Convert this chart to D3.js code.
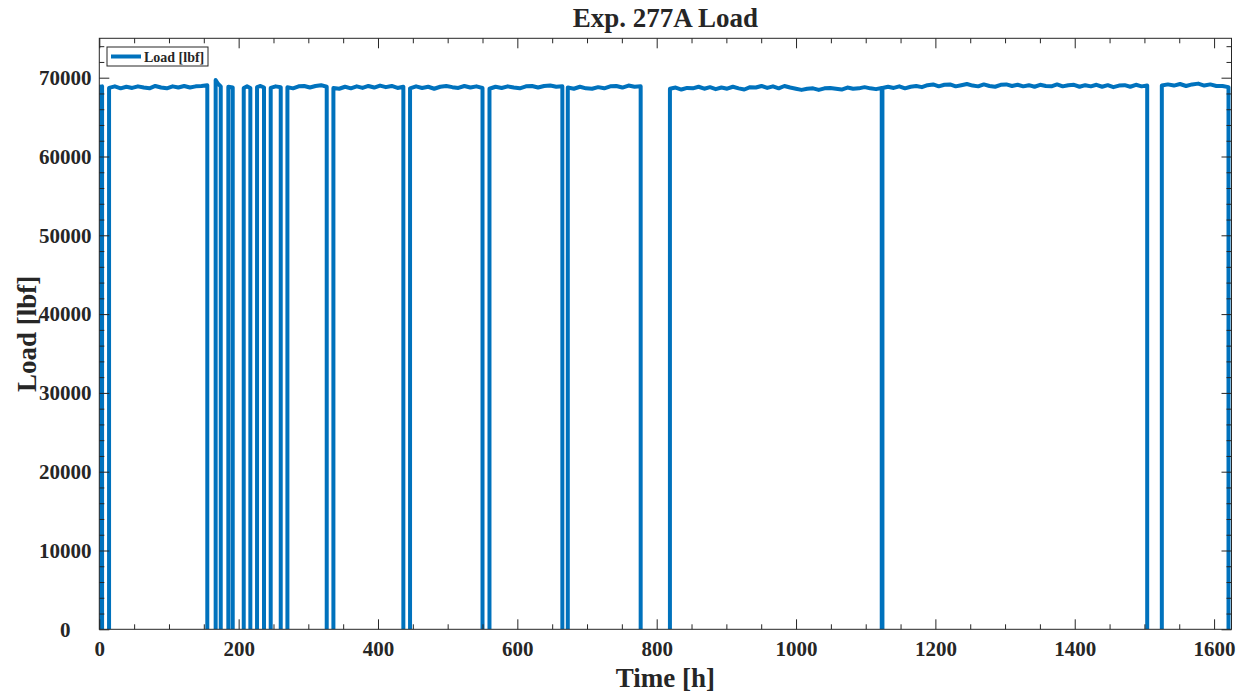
<!DOCTYPE html>
<html>
<head>
<meta charset="utf-8">
<script src="https://cdn.jsdelivr.net/npm/d3@7"></script>
<style>
  html, body { margin: 0; padding: 0; background: #fff; }
  svg { display: block; }
  text { font-family: "Liberation Serif", "Times New Roman", serif; font-weight: bold; fill: #262626; }
</style>
</head>
<body>
<svg id="root"></svg>
<script>
(function () {
  // on-load periods [h] and load samples read along each plateau [lbf]
  const onStart = [0.5, 14, 167, 185.2, 207.3, 226.4, 246, 270, 336, 446, 560, 672.4, 819, 1124, 1525];
  const onEnd = [4, 155, 174.3, 191.5, 216.8, 236.4, 260.4, 326.4, 436.4, 550, 664.6, 777, 1123, 1504, 1620.7];
  const onLevels = [
    [68850, 68900],
    [68700, 68900, 68650, 68850, 68700, 68900, 68750, 68650, 68950, 68750, 68650, 68900, 68750, 68950, 68750, 68900, 68950, 69050],
    [69700, 69200, 68900],
    [68850, 68750],
    [68700, 68900, 68700],
    [68800, 68950, 68750],
    [68700, 68900, 68800],
    [68800, 68650, 68900, 68950, 68750, 68950, 69050, 68850],
    [68700, 68600, 68850, 68650, 68900, 68700, 68950, 68750, 69000, 68800, 68950, 68700, 68850],
    [68650, 68900, 68700, 68850, 68600, 68850, 68950, 68800, 68700, 68950, 68750, 68900, 68700],
    [68600, 68850, 68700, 68900, 68750, 68650, 68900, 68950, 68750, 68950, 69000, 68850, 68900],
    [68750, 68600, 68850, 68650, 68600, 68800, 68650, 68900, 68950, 68750, 69000, 68850, 68900],
    [68600, 68750, 68500, 68700, 68650, 68850, 68600, 68800, 68550, 68750,
     68600, 68850, 68650, 68500, 68800, 68750, 68950, 68700, 68900, 68650,
     68950, 68750, 68600, 68450, 68600, 68650, 68450, 68650, 68700, 68600,
     68500, 68750, 68600, 68650, 68800, 68650, 68550, 68700],
    [68700, 68850, 68700, 68900, 68650, 68850, 68950, 68800,
     69050, 69150, 68900, 69100, 69150, 68900, 69050, 69200,
     69000, 68900, 69150, 68950, 68850, 69100, 69150, 68950,
     69100, 68900, 69050, 68850, 69100, 68950, 68900, 69150,
     68900, 69050, 69100, 68850, 69050, 68900, 69100, 68850,
     69050, 68800, 69000, 69050, 68850, 69100, 68900, 69000],
    [69000, 69150, 69000, 69200, 68950, 69150, 69250, 69000, 69150, 68950, 68950, 68800]
  ];
  const xMajorTicks = [0, 200, 400, 600, 800, 1000, 1200, 1400, 1600];
  const yMajorTicks = [0, 10000, 20000, 30000, 40000, 50000, 60000, 70000];

  const W = 1242, H = 694;
  const margin = { top: 38.3, right: 10.5, bottom: 64.7, left: 99.3 };
  const iw = W - margin.left - margin.right;
  const ih = H - margin.top - margin.bottom;
  const axisColor = "#262626";
  const lineColor = "#0072BD";

  const svg = d3.select("#root").attr("width", W).attr("height", H);

  const x = d3.scaleLinear().domain([0, 1625]).range([0, iw]);
  const y = d3.scaleLinear().domain([0, 75000]).range([ih, 0]);

  const g = svg.append("g").attr("transform", `translate(${margin.left},${margin.top})`);

  svg.append("defs").append("clipPath").attr("id", "plotclip")
    .append("rect").attr("width", iw).attr("height", ih);

  // build the series: each plateau drops to zero at both ends
  let segments = onStart.map((a, i) => {
    let b = onEnd[i];
    let lv = onLevels[i];
    let pts = [[a, 0]];
    lv.forEach((v, k) => {
      let t = lv.length === 1 ? a : a + (b - a) * k / (lv.length - 1);
      pts.push([t, v]);
    });
    pts.push([b, 0]);
    return pts;
  });

  const line = d3.line().x(d => x(d[0])).y(d => y(d[1]));

  g.append("g").attr("clip-path", "url(#plotclip)")
    .selectAll("path.load")
    .data(segments)
    .enter().append("path")
    .attr("class", "load")
    .attr("d", line)
    .attr("fill", "none")
    .attr("stroke", lineColor)
    .attr("stroke-width", 4)
    .attr("stroke-linejoin", "round");

  const xMinor = d3.range(0, 1625, 50).filter(v => v % 200 !== 0);
  const yMinor = d3.range(0, 75001, 2000).filter(v => v % 10000 !== 0);

  function styleAxis(sel) {
    sel.select(".domain").remove();
    sel.selectAll(".tick line").attr("stroke", axisColor).attr("stroke-width", 1);
  }

  // bottom
  g.append("g").attr("transform", `translate(0,${ih})`)
    .call(d3.axisBottom(x).tickValues(xMajorTicks).tickSize(-10).tickPadding(12).tickFormat(d3.format("d")))
    .call(styleAxis)
    .call(s => s.selectAll("text").attr("font-size", 21).attr("fill", axisColor)
      .style("font-family", '"Liberation Serif", serif').style("font-weight", "bold"));
  g.append("g").attr("transform", `translate(0,${ih})`)
    .call(d3.axisBottom(x).tickValues(xMinor).tickSize(-5).tickFormat(""))
    .call(styleAxis);
  // top
  g.append("g")
    .call(d3.axisTop(x).tickValues(xMajorTicks).tickSize(-10).tickFormat(""))
    .call(styleAxis);
  g.append("g")
    .call(d3.axisTop(x).tickValues(xMinor).tickSize(-5).tickFormat(""))
    .call(styleAxis);
  // left
  g.append("g")
    .call(d3.axisLeft(y).tickValues(yMajorTicks).tickSize(-10).tickFormat(d3.format("d")))
    .call(styleAxis)
    .call(s => s.selectAll("text").attr("font-size", 21).attr("fill", axisColor)
      .attr("text-anchor", "middle").attr("x", -34)
      .style("font-family", '"Liberation Serif", serif').style("font-weight", "bold"));
  g.append("g")
    .call(d3.axisLeft(y).tickValues(yMinor).tickSize(-5).tickFormat(""))
    .call(styleAxis);
  // right
  g.append("g").attr("transform", `translate(${iw},0)`)
    .call(d3.axisRight(y).tickValues(yMajorTicks).tickSize(-10).tickFormat(""))
    .call(styleAxis);
  g.append("g").attr("transform", `translate(${iw},0)`)
    .call(d3.axisRight(y).tickValues(yMinor).tickSize(-5).tickFormat(""))
    .call(styleAxis);

  // box
  g.append("rect")
    .attr("width", iw).attr("height", ih)
    .attr("fill", "none").attr("stroke", axisColor).attr("stroke-width", 1);

  // titles
  svg.append("text")
    .attr("x", margin.left + iw / 2).attr("y", 27)
    .attr("text-anchor", "middle").attr("font-size", 27)
    .text("Exp. 277A Load");
  svg.append("text")
    .attr("x", margin.left + iw / 2).attr("y", 687)
    .attr("text-anchor", "middle").attr("font-size", 27)
    .text("Time [h]");
  svg.append("text")
    .attr("transform", `translate(36,${margin.top + ih / 2}) rotate(-90)`)
    .attr("text-anchor", "middle").attr("font-size", 27)
    .text("Load [lbf]");

  // legend
  const lg = svg.append("g").attr("transform", "translate(107,47)");
  lg.append("rect").attr("width", 101).attr("height", 19)
    .attr("fill", "#fff").attr("stroke", axisColor).attr("stroke-width", 1);
  lg.append("line").attr("x1", 4).attr("x2", 34).attr("y1", 9.5).attr("y2", 9.5)
    .attr("stroke", lineColor).attr("stroke-width", 4);
  lg.append("text").attr("x", 37).attr("y", 14.5).attr("font-size", 14)
    .text("Load [lbf]");
})();
</script>
</body>
</html>
